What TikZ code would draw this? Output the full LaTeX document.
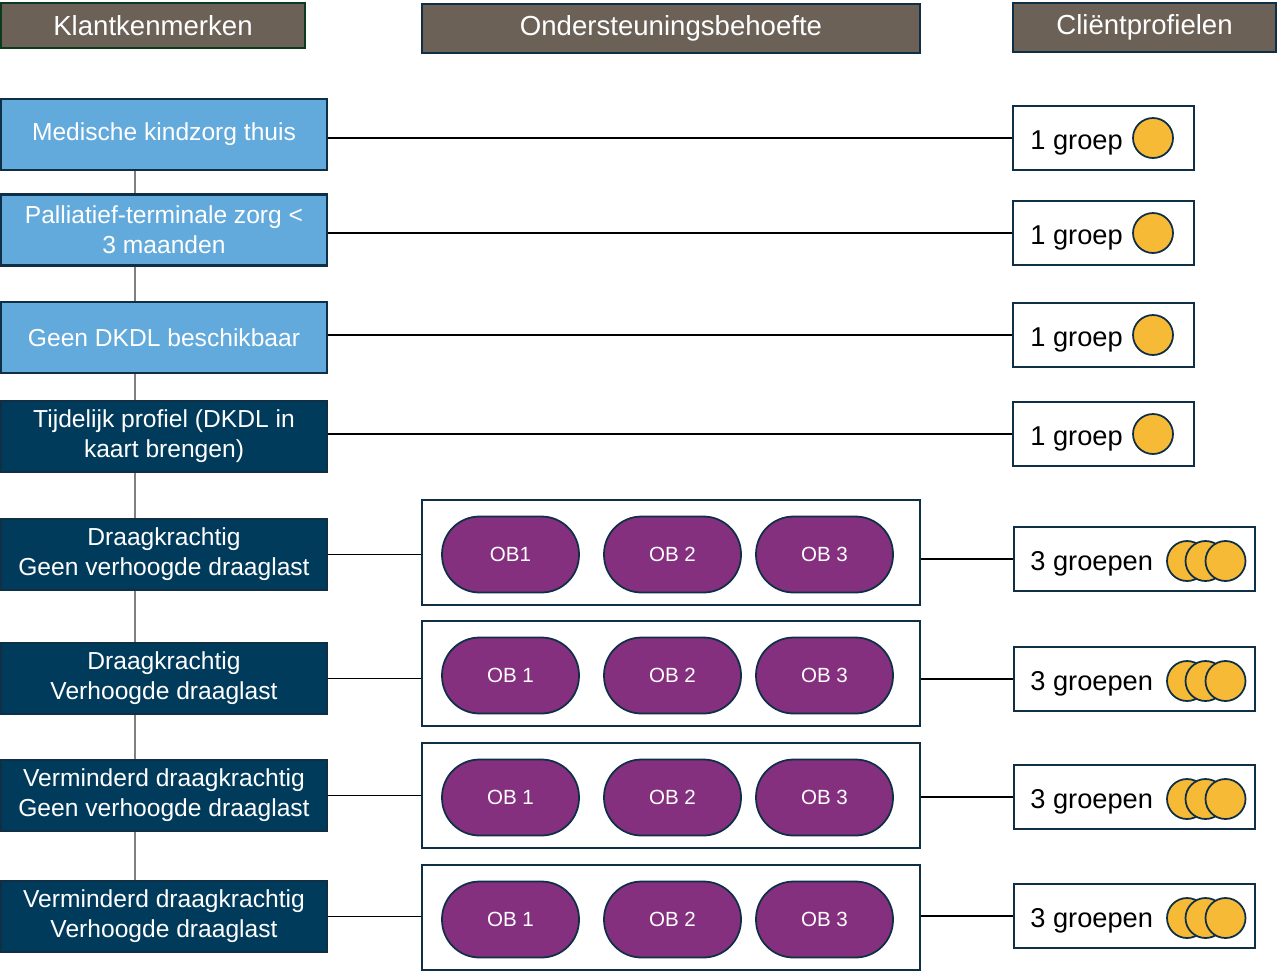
\documentclass[tikz,border=0pt]{standalone}
\usepackage{fontspec}
\setmainfont{Liberation Sans}

\definecolor{kopbruin}{HTML}{6B6157}
\definecolor{groenrand}{HTML}{0B3A1C}
\definecolor{navyrand}{HTML}{0E2F45}
\definecolor{lichtblauw}{HTML}{62A9DC}
\definecolor{donkerblauw}{HTML}{003B5C}
\definecolor{paars}{HTML}{84307F}
\definecolor{goud}{HTML}{F6BA37}

\tikzset{
  kop/.style={draw=navyrand, line width=1.2pt, fill=kopbruin, text=white,
    font=\fontsize{15.7}{19}\selectfont, inner sep=0pt},
  kenmerk/.style={draw=navyrand, line width=1.2pt, text=white, align=center,
    font=\fontsize{14}{17}\selectfont, minimum width=6.52cm, minimum height=1.42cm, inner sep=0pt},
  licht/.style={kenmerk, fill=lichtblauw},
  donker/.style={kenmerk, fill=donkerblauw},
  obkader/.style={draw=navyrand, line width=1.2pt, fill=white, minimum width=9.96cm, minimum height=2.1cm},
  obpil/.style={draw=navyrand, line width=1pt, fill=paars, text=white, rounded corners=0.75cm,
    font=\fontsize{11.7}{14}\selectfont, minimum width=2.74cm, minimum height=1.52cm},
  profiel/.style={draw=navyrand, line width=1.2pt, fill=white, minimum height=1.28cm},
  groeptekst/.style={anchor=base west, inner sep=0pt, font=\fontsize{15.5}{18}\selectfont},
  munt/.style={circle, draw=navyrand, line width=1pt, fill=goud, minimum size=0.8cm, inner sep=0pt},
  lijn/.style={black, line width=0.6pt},
  stam/.style={gray, line width=1pt}
}

\begin{document}
\begin{tikzpicture}[x=0.02cm,y=-0.02cm]
\useasboundingbox (0,0) rectangle (1277,971);

% koppen
\node[kop, draw=groenrand, minimum width=6.08cm, minimum height=0.9cm] (kopK) at (153,25.5) {Klantkenmerken};
\node[kop, minimum width=9.96cm, minimum height=0.98cm] (kopO) at (671,28.5) {Ondersteuningsbehoefte};
\node[kop, minimum width=5.26cm, minimum height=0.98cm] (kopC) at (1144.5,27.5) {Cliëntprofielen};

% klantkenmerken
\node[licht] (k1) at (164,134.5) {Medische kindzorg thuis};
\node[licht] (k2) at (164,230) {Palliatief-terminale zorg <\\3 maanden};
\node[licht] (k3) at (164,337.5) {Geen DKDL beschikbaar};
\node[donker] (k4) at (164,436.5) {Tijdelijk profiel (DKDL in\\kaart brengen)};
\node[donker] (k5) at (164,554.5) {Draagkrachtig\\Geen verhoogde draaglast};
\node[donker] (k6) at (164,678.5) {Draagkrachtig\\Verhoogde draaglast};
\node[donker] (k7) at (164,795.5) {Verminderd draagkrachtig\\Geen verhoogde draaglast};
\node[donker] (k8) at (164,916.5) {Verminderd draagkrachtig\\Verhoogde draaglast};

\foreach \a/\b in {k1/k2,k2/k3,k3/k4,k4/k5,k5/k6,k6/k7,k7/k8}
  \draw[stam] ([xshift=-0.58cm]\a.south) -- ([xshift=-0.58cm]\b.north);

% profielen met 1 groep
\foreach \i/\y in {1/138,2/233,3/335,4/434} {
  \node[profiel, minimum width=3.62cm] (p\i) at (1103.5,\y) {};
  \node[groeptekst] (t\i) at (1030,\y+11) {1 groep};
  \node[munt] (m\i) at (1153,\y) {};
  \draw[lijn] (k\i.east |- p\i.west) -- (p\i.west);
}

% ondersteuningsbehoefte en profielen met 3 groepen
\foreach \i/\o/\y/\e in {5/552.5/559/OB1,6/673.5/679/OB 1,7/795.5/797/OB 1,8/917.5/916/OB 1} {
  \node[obkader] (ob\i) at (671,\o) {};
  \node[obpil] (ob\i a) at (510.5,\o+2) {\e};
  \node[obpil] (ob\i b) at (672.5,\o+2) {OB 2};
  \node[obpil] (ob\i c) at (824.5,\o+2) {OB 3};
  \node[profiel, minimum width=4.82cm] (p\i) at (1134.5,\y) {};
  \node[groeptekst] (t\i) at (1030,\y+11) {3 groepen};
  \node[munt] (m\i a) at (1187,\y+2) {};
  \node[munt] (m\i b) at (1205.5,\y+2) {};
  \node[munt] (m\i c) at (1225.5,\y+2) {};
  \draw[lijn] (k\i.east) -- (k\i.east -| ob\i.west);
  \draw[lijn] (ob\i.east |- p\i.west) -- (p\i.west);
}

\end{tikzpicture}
\end{document}
